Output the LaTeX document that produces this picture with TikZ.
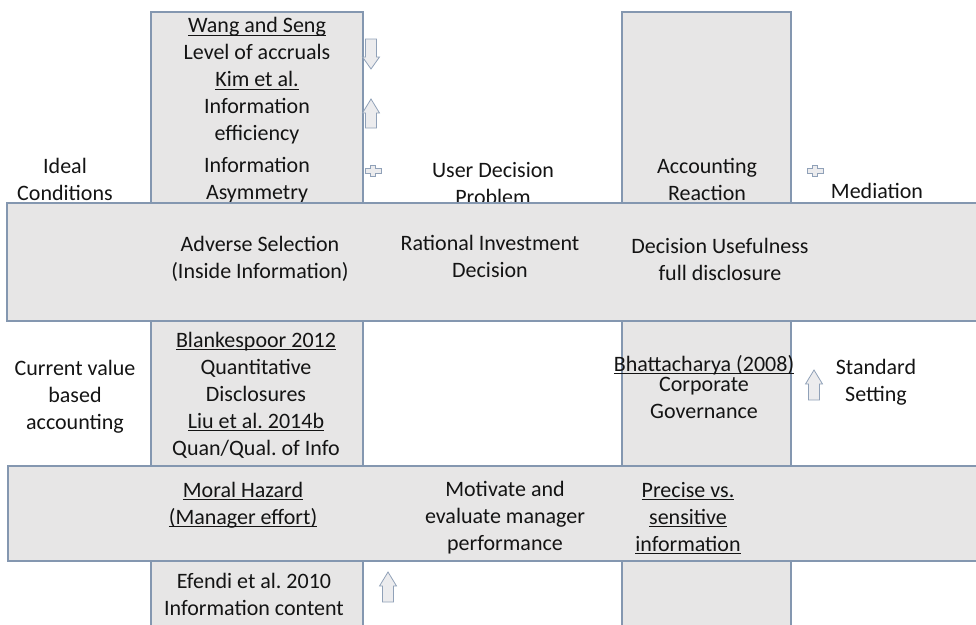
\documentclass[tikz,border=0pt]{standalone}
\usepackage{fontspec}
\setmainfont{Carlito}
\frenchspacing
\definecolor{boxfill}{HTML}{E7E6E6}
\definecolor{boxline}{HTML}{8497B0}
\definecolor{txt}{HTML}{141414}
\definecolor{arrfill}{HTML}{ECECEE}
\newcommand\myul[1]{\setbox0\hbox{#1}\rlap{\color{txt}\rule[-3pt]{\wd0}{1.3pt}}\box0}
\tikzset{
  panel/.style={fill=boxfill, draw=boxline, line width=1.1pt},
  lbl/.style={align=center, text=txt, inner sep=0pt, font=\fontsize{22}{27}\selectfont},
  blockarrow/.style={fill=arrfill, draw=boxline!90, line width=0.8pt, line join=miter},
}
\newcommand\uparr[3]{% x, tip y, bottom y
  \draw[blockarrow] (#1-5.5,#3) -- (#1-5.5,#2+14) -- (#1-8.5,#2+14) -- (#1,#2) -- (#1+8.5,#2+14) -- (#1+5.5,#2+14) -- (#1+5.5,#3) -- cycle;}
\newcommand\downarr[3]{% x, top y, tip y
  \draw[blockarrow] (#1-5.5,#2) -- (#1-5.5,#3-12) -- (#1-8.5,#3-12) -- (#1,#3) -- (#1+8.5,#3-12) -- (#1+5.5,#3-12) -- (#1+5.5,#2) -- cycle;}
\newcommand\plussign[2]{%
  \draw[blockarrow] (#1-2.5,#2-5.5) -- (#1+2.5,#2-5.5) -- (#1+2.5,#2-2.2) -- (#1+8,#2-2.2) -- (#1+8,#2+2.2) -- (#1+2.5,#2+2.2) -- (#1+2.5,#2+5.5) -- (#1-2.5,#2+5.5) -- (#1-2.5,#2+2.2) -- (#1-8,#2+2.2) -- (#1-8,#2-2.2) -- (#1-2.5,#2-2.2) -- cycle;}
\begin{document}
\begin{tikzpicture}[x=1pt,y=-1pt]
\useasboundingbox (0,0) rectangle (976,624);
% columns
\draw[panel] (151,12) rectangle (363,640);
\draw[panel] (622,12) rectangle (791,640);
% top texts
\node[lbl] (wang) at (257,81) {\myul{Wang and Seng}\\Level of accruals\\\myul{Kim et al.}\\Information\\efficiency};
\node[lbl] (asym) at (257,180) {Information\\Asymmetry};
\node[lbl] (ideal) at (65,179) {Ideal\\Conditions};
\node[lbl] (user) at (493,184) {User Decision\\Problem};
\node[lbl] (accr) at (707,179) {Accounting\\Reaction};
\node[lbl] (medi) at (877,191) {Mediation};
\downarr{371}{39}{69}
\uparr{371}{99}{128}
\plussign{373}{171}
\plussign{815}{171}
% bands
\draw[panel] (7,203) rectangle (990,321);
\draw[panel] (8,466) rectangle (990,561);
% band 1 texts
\node[lbl] (adv) at (260,259) {Adverse Selection\\(Inside Information)};
\node[lbl] (rat) at (490,256) {Rational Investment\\Decision};
\node[lbl] (dec) at (720,259) {Decision Usefulness\\full disclosure};
% middle texts
\node[lbl] (curr) at (75,397) {Current value\\based\\accounting};
\node[lbl] (blank) at (256,395) {\myul{Blankespoor 2012}\\Quantitative\\Disclosures\\\myul{Liu et al. 2014b}\\Quan/Qual. of Info};
\node[lbl] (bhat) at (704,365) {\myul{Bhattacharya (2008)}};
\node[lbl] (corp) at (704,398) {Corporate\\Governance};
\uparr{814}{370}{400}
\node[lbl] (std) at (876,382) {Standard\\Setting};
% band 2 texts
\node[lbl] (moral) at (243,505) {\myul{Moral Hazard}\\\myul{(Manager effort)}};
\node[lbl] (motiv) at (505,518) {Motivate and\\evaluate manager\\performance};
\node[lbl] (prec) at (688,518) {\myul{Precise vs.}\\\myul{sensitive}\\\myul{information}};
% bottom texts
\node[lbl] (efen) at (254,594) {Efendi et al. 2010\\Information content};
\uparr{388}{572}{602}
\end{tikzpicture}
\end{document}
